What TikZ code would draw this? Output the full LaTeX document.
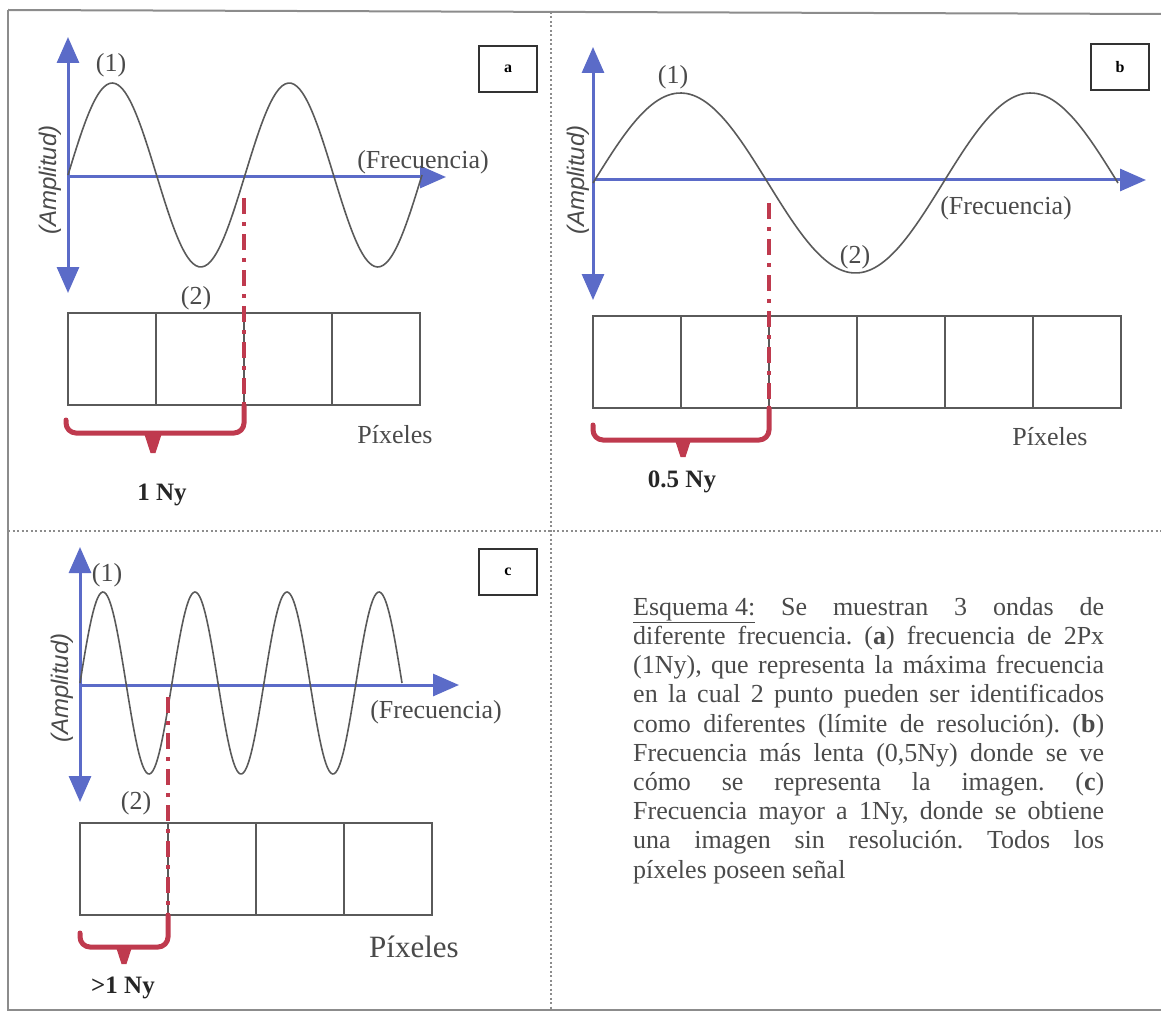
\documentclass[tikz,border=0pt]{standalone}
\usepackage{fontspec}
\setmainfont{Liberation Serif}
\setsansfont{Liberation Sans}
\usetikzlibrary{arrows.meta, positioning}
\definecolor{axisblue}{HTML}{5B6BC8}
\definecolor{nyqred}{HTML}{BF3A4E}
\definecolor{wavegray}{HTML}{5A5A5A}
\definecolor{textgray}{HTML}{4A4A4A}
\definecolor{framegray}{HTML}{8C8C8C}
\frenchspacing

\begin{document}
\begin{tikzpicture}[
  x=1pt, y=-1pt,
  every node/.style={font=\fontsize{26}{29}\selectfont, text=textgray, inner sep=0pt},
  axisv/.style={draw=axisblue, line width=3pt,
                {Triangle[length=26pt, width=22pt]}-{Triangle[length=26pt, width=22pt]}},
  axish/.style={draw=axisblue, line width=3pt, -{Triangle[length=26pt, width=22pt]}},
  wave/.style={draw=wavegray, line width=1.6pt},
  nyq/.style={draw=nyqred, line width=4pt, dash pattern=on 16pt off 8pt on 4pt off 8pt},
  brace/.style={draw=nyqred, line width=5pt, rounded corners=10pt, line cap=round},
  pixel/.style={draw=wavegray, line width=1.6pt, minimum width=88pt, minimum height=92pt, outer sep=0pt},
  tag/.style={draw=black!80, line width=1.8pt, minimum width=58pt, minimum height=46pt,
              font=\fontsize{16}{16}\selectfont\bfseries, text=black},
  amp/.style={font=\sffamily\itshape\fontsize{24}{24}\selectfont, rotate=90},
  ny/.style={font=\fontsize{25}{25}\selectfont\bfseries, text=black!85},
  frame/.style={draw=framegray, line width=2pt},
  divider/.style={draw=framegray, line width=2.5pt, dash pattern=on 2pt off 2.5pt}
]
\useasboundingbox (0,0) rectangle (1161,1019);

% frame and dividers
\draw[frame] (8,10) -- (1161,14);
\draw[frame] (8,10) -- (8,1010) -- (1161,1010);
\draw[divider] (551,12) -- (551,1010);
\draw[divider] (8,531) -- (1161,531);

% (a) 1 Ny
\coordinate (aO) at (68,177);
\coordinate (aT) at (68,37);
\coordinate (aB) at (68,293);
\coordinate (aX) at (446,177);
\draw[axisv] (aB) -- (aT);
\draw[axish] (aO) -- (aX);
\draw[wave] plot[domain=0:720, samples=120, smooth] ({68+\x/360*177}, {175-92*sin(\x)});
\node (a1lbl) at (111,65) {(1)};
\node (a2lbl) at (196,298) {(2)};
\node (aF) at (423,162) {(Frecuencia)};
\node[amp] (aA) at (50,180) {(Amplitud)};
\node[tag] (aTag) at (508,69) {a};
\node[pixel, anchor=north west] (a1) at (68,313) {};
\node[pixel, right=0pt of a1] (a2) {};
\node[pixel, right=0pt of a2] (a3) {};
\node[pixel, right=0pt of a3] (a4) {};
\coordinate (aN) at (244,198);
\coordinate (aL) at (66,420);
\coordinate (aM) at (153,433);
\coordinate (aTip) at (153,453);
\draw[nyq] (aN) -- (a2.south east);
\draw[brace] (aL) |- (aM) -| (a2.south east);
\fill[nyqred] ([xshift=-9pt]aM) -- ([xshift=9pt]aM) -- ([xshift=2.5pt]aTip) -- ([xshift=-2.5pt]aTip) -- cycle;
\node (aPx) at (395,435) {Píxeles};
\node[ny] (aNy) at (162,495) {1 Ny};

% (b) 0.5 Ny
\coordinate (bO) at (593,180);
\coordinate (bT) at (593,47);
\coordinate (bB) at (593,300);
\coordinate (bX) at (1146,180);
\draw[axisv] (bB) -- (bT);
\draw[axish] (bO) -- (bX);
\draw[wave] plot[domain=0:540, samples=120, smooth] ({593+\x/360*350}, {183-90*sin(\x)});
\node (b1lbl) at (673,77) {(1)};
\node (b2lbl) at (855,257) {(2)};
\node (bF) at (1006,208) {(Frecuencia)};
\node[amp] (bA) at (578,180) {(Amplitud)};
\node[tag] (bTag) at (1120,67) {b};
\node[pixel, anchor=north west] (b1) at (593,316) {};
\node[pixel, right=0pt of b1] (b2) {};
\node[pixel, right=0pt of b2] (b3) {};
\node[pixel, right=0pt of b3] (b4) {};
\node[pixel, right=0pt of b4] (b5) {};
\node[pixel, right=0pt of b5] (b6) {};
\coordinate (bN) at (769,203);
\coordinate (bL) at (593,425);
\coordinate (bM) at (683,440);
\coordinate (bTip) at (683,457);
\draw[nyq] (bN) -- (b2.south east);
\draw[brace] (bL) |- (bM) -| (b2.south east);
\fill[nyqred] ([xshift=-8pt]bM) -- ([xshift=8pt]bM) -- ([xshift=2.5pt]bTip) -- ([xshift=-2.5pt]bTip) -- cycle;
\node (bPx) at (1050,437) {Píxeles};
\node[ny] (bNy) at (682,482) {0.5 Ny};

% (c) >1 Ny
\coordinate (cO) at (80,685);
\coordinate (cT) at (80,547);
\coordinate (cB) at (80,802);
\coordinate (cX) at (459,685);
\draw[axisv] (cB) -- (cT);
\draw[axish] (cO) -- (cX);
\draw[wave] plot[domain=0:1260, samples=200, smooth] ({80+\x/360*92}, {683-91*sin(\x)});
\node (c1lbl) at (107,575) {(1)};
\node (c2lbl) at (136,803) {(2)};
\node (cF) at (436,712) {(Frecuencia)};
\node[amp] (cA) at (62,688) {(Amplitud)};
\node[tag] (cTag) at (508,572) {c};
\node[pixel, anchor=north west] (c1) at (80,823) {};
\node[pixel, right=0pt of c1] (c2) {};
\node[pixel, right=0pt of c2] (c3) {};
\node[pixel, right=0pt of c3] (c4) {};
\coordinate (cN) at (168,697);
\coordinate (cL) at (80,933);
\coordinate (cM) at (124,947);
\coordinate (cTip) at (124,964);
\draw[nyq] (cN) -- (c1.south east);
\draw[brace] (cL) |- (cM) -| (c1.south east);
\fill[nyqred] ([xshift=-8pt]cM) -- ([xshift=8pt]cM) -- ([xshift=2.5pt]cTip) -- ([xshift=-2.5pt]cTip) -- cycle;
\node[font=\fontsize{31}{31}\selectfont] (cPx) at (414,947) {Píxeles};
\node[ny] (cNy) at (123,988) {>1 Ny};

% caption
\node[anchor=north west, text width=471pt, align=justify, font=\fontsize{26}{29.2}\selectfont] (cap) at (633,597)
  {\underline{Esquema 4:} Se muestran 3 ondas de\linebreak
   diferente frecuencia. (\textbf{a}) frecuencia de 2Px\linebreak
   (1Ny), que representa la máxima frecuencia\linebreak
   en la cual 2 punto pueden ser identificados\linebreak
   como diferentes (límite de resolución). (\textbf{b})\linebreak
   Frecuencia más lenta (0,5Ny) donde se ve\linebreak
   cómo se representa la imagen. (\textbf{c})\linebreak
   Frecuencia mayor a 1Ny, donde se obtiene\linebreak
   una imagen sin resolución. Todos los\linebreak
   píxeles poseen señal};
\end{tikzpicture}
\end{document}
